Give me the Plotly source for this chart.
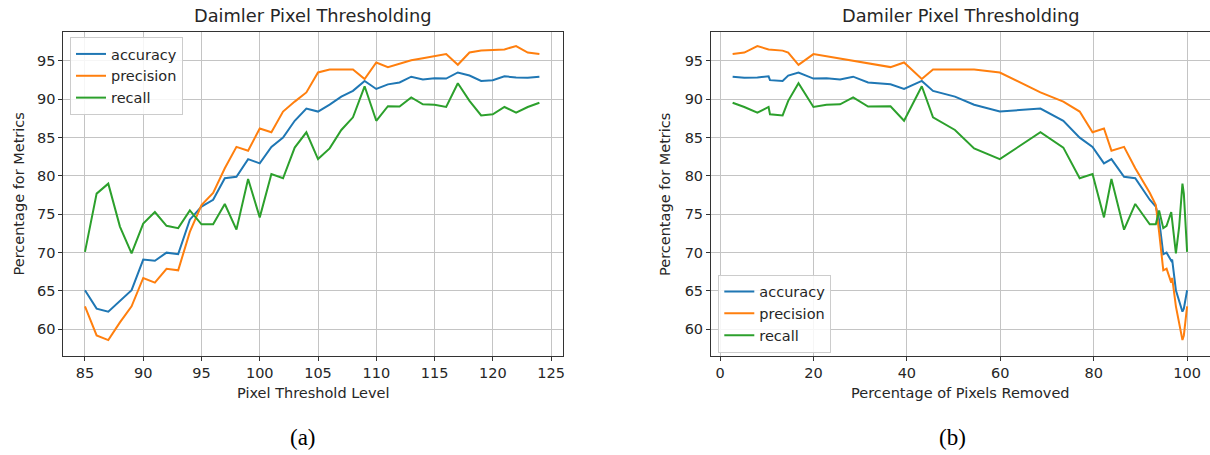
import plotly.graph_objects as go

# ---------------- data ----------------
thresholds = list(range(85, 125))
accuracy = [65.1, 62.7, 62.3, 63.7, 65.1, 69.1, 68.95, 70.0, 69.8, 74.3,
            76.0, 76.9, 79.7, 79.9, 82.2, 81.65, 83.8, 85.0, 87.2, 88.8,
            88.4, 89.3, 90.35, 91.1, 92.4, 91.35, 91.95, 92.2, 92.95, 92.6,
            92.75, 92.7, 93.5, 93.1, 92.4, 92.5, 93.0, 92.85, 92.8, 92.95]
precision = [63.0, 59.2, 58.6, 60.9, 63.0, 66.7, 66.1, 67.9, 67.7, 72.7,
             76.2, 77.8, 81.0, 83.8, 83.3, 86.2, 85.7, 88.4, 89.7, 90.9,
             93.5, 93.9, 93.9, 93.9, 92.65, 94.8, 94.2, 94.7, 95.1, 95.35,
             95.65, 95.9, 94.5, 96.1, 96.35, 96.4, 96.5, 96.95, 96.1, 95.9]
recall = [70.1, 77.7, 79.0, 73.4, 69.9, 73.8, 75.3, 73.5, 73.2, 75.5,
          73.7, 73.7, 76.35, 73.0, 79.6, 74.6, 80.25, 79.7, 83.7, 85.7,
          82.2, 83.6, 86.0, 87.65, 91.7, 87.2, 89.1, 89.05, 90.25, 89.35,
          89.3, 89.0, 92.1, 89.8, 87.9, 88.05, 89.0, 88.25, 89.0, 89.55]
pct_removed = [100.0, 99.3, 99.0, 98.3, 97.6, 96.8, 96.6, 95.6, 94.9, 94.0,
               93.3, 92.0, 88.9, 86.5, 83.8, 82.2, 79.75, 77.0, 73.5, 68.6,
               59.9, 54.4, 50.3, 45.6, 43.2, 39.4, 36.5, 31.7, 28.5, 25.7,
               22.8, 20.0, 16.8, 14.6, 13.4, 10.7, 10.4, 8.0, 5.2, 2.7]
series_names = ["accuracy", "precision", "recall"]
left_ticks = [85, 90, 95, 100, 105, 110, 115, 120, 125]
right_ticks = [0, 20, 40, 60, 80, 100]
y_ticks = [60, 65, 70, 75, 80, 85, 90, 95]
titles = ["Daimler Pixel Thresholding", "Damiler Pixel Thresholding"]
xlabels = ["Pixel Threshold Level", "Percentage of Pixels Removed"]
ylabel = "Percentage for Metrics"
captions = ["(a)", "(b)"]

# ---------------- layout helpers ----------------
W, H = 1210, 455
def fx(p):
    return p / W
def fy(p):
    return 1 - p / H

colors = ["#1f77b4", "#ff7f0e", "#2ca02c"]
FONT = "DejaVu Sans"
TXT = "#262626"
FS = 14.5

fig = go.Figure()
values = [accuracy, precision, recall]
for name, vals, c in zip(series_names, values, colors):
    fig.add_trace(go.Scatter(x=thresholds, y=vals, mode="lines", name=name,
                             line=dict(color=c, width=2),
                             xaxis="x", yaxis="y", legend="legend"))
for name, vals, c in zip(series_names, values, colors):
    fig.add_trace(go.Scatter(x=pct_removed, y=vals, mode="lines", name=name,
                             line=dict(color=c, width=2),
                             xaxis="x2", yaxis="y2", legend="legend2"))

axis_common = dict(showline=True, mirror=True, linecolor="#333333", linewidth=1,
                   ticks="outside", ticklen=4, tickwidth=1, tickcolor="#333333",
                   showgrid=True, gridcolor="#c4c4c4", gridwidth=1, zeroline=False,
                   automargin=False,
                   tickfont=dict(family=FONT, size=FS, color=TXT))

ydom = [fy(355.7), fy(32.3)]
fig.update_layout(
    width=W, height=H, autosize=False,
    margin=dict(l=0, r=0, t=0, b=0, autoexpand=False),
    paper_bgcolor="white", plot_bgcolor="white",
    xaxis=dict(domain=[fx(63.3), fx(562.7)], range=[83.14, 126.0], anchor="y",
               tickmode="array", tickvals=left_ticks, **axis_common),
    yaxis=dict(domain=ydom, range=[56.56, 98.74], anchor="x",
               tickmode="array", tickvals=y_ticks, **axis_common),
    xaxis2=dict(domain=[fx(711), 1.0], range=[-1.93, 104.9], anchor="y2",
                tickmode="array", tickvals=right_ticks, **axis_common),
    yaxis2=dict(domain=ydom, range=[56.56, 98.74], anchor="x2",
                tickmode="array", tickvals=y_ticks, **axis_common),
    legend=dict(x=fx(70), y=fy(37), xanchor="left", yanchor="top",
                bgcolor="rgba(255,255,255,0.85)", bordercolor="#cccccc", borderwidth=1,
                font=dict(family=FONT, size=FS, color=TXT)),
    legend2=dict(x=fx(718.3), y=fy(274.5), xanchor="left", yanchor="top",
                 bgcolor="rgba(255,255,255,0.85)", bordercolor="#cccccc", borderwidth=1,
                 font=dict(family=FONT, size=FS, color=TXT)),
)

ann = []
centers = [313.0, 960.5]
for i in range(2):
    ann.append(dict(text=titles[i], x=fx(centers[i]), y=fy(16), xref="paper", yref="paper",
                    xanchor="center", yanchor="middle", showarrow=False,
                    font=dict(family=FONT, size=17.8, color=TXT)))
    ann.append(dict(text=xlabels[i], x=fx(centers[i]), y=fy(393), xref="paper", yref="paper",
                    xanchor="center", yanchor="middle", showarrow=False,
                    font=dict(family=FONT, size=FS, color=TXT)))
    ann.append(dict(text=captions[i], x=fx([303.3, 952.0][i]), y=fy(437), xref="paper", yref="paper",
                    xanchor="center", yanchor="middle", showarrow=False,
                    font=dict(family="Liberation Serif", size=23, color="black")))
for xp in [18.5, 665.0]:
    ann.append(dict(text=ylabel, x=fx(xp), y=fy(194), xref="paper", yref="paper",
                    xanchor="center", yanchor="middle", showarrow=False, textangle=-90,
                    font=dict(family=FONT, size=FS, color=TXT)))
fig.update_layout(annotations=ann)

fig.write_html("out.html",
               config={"displayModeBar": False},
               post_script="document.body.style.margin='0px';document.body.style.padding='0px';")
